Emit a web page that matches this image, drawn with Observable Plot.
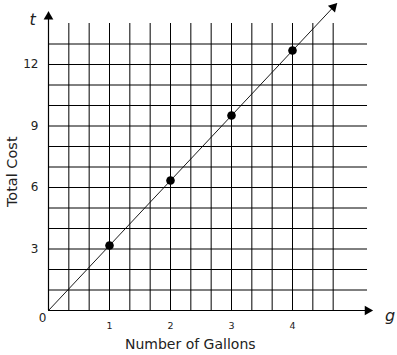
<!DOCTYPE html>
<html>
<head>
<meta charset="utf-8">
<script src="https://cdn.jsdelivr.net/npm/d3@7"></script>
<script src="https://cdn.jsdelivr.net/npm/@observablehq/plot@0.6"></script>
<style>
  html, body { margin: 0; padding: 0; background: #fff; }
  svg { display: block; }
</style>
</head>
<body>
<div id="chart"></div>
<script>
// Data
const gallons = [1, 2, 3, 4];
const totalCost = [3.17, 6.34, 9.51, 12.68];
const xTicks = [1, 2, 3, 4];
const yTicks = [3, 6, 9, 12];
const xGrid = d3.range(0, 15).map(k => k / 3);    // vertical grid every 1/3 gallon
const yGrid = d3.range(1, 14);                    // horizontal grid every 1
const gridTopY = 14;
const gridRightX = 5.23;
const lineG = [0, 4.72];
const lineT = [0, 14.96];
const xAxisEnd = 5.3;
const yAxisEnd = 14.55;

const W = 397, H = 355;
const ML = 48, MR = 13.5, MT = 2.5, MB = 45;
const xDomain = [0, 5.5], yDomain = [0, 15];
const ux = (W - ML - MR) / (xDomain[1] - xDomain[0]);
const uy = (H - MT - MB) / (yDomain[1] - yDomain[0]);
const slope = (lineT[1] - lineT[0]) / (lineG[1] - lineG[0]);
const diagAngle = Math.atan2(ux, slope * uy) * 180 / Math.PI;

const font = "DejaVu Sans, Verdana, sans-serif";
const ink = "#222";

const chart = Plot.plot({
  width: W,
  height: H,
  marginLeft: ML,
  marginRight: MR,
  marginTop: MT,
  marginBottom: MB,
  style: { fontFamily: font, background: "#fff", overflow: "visible" },
  x: { domain: xDomain },
  y: { domain: yDomain },
  marks: [
    // grid
    Plot.ruleX(xGrid, { x: d => d, y1: 0, y2: gridTopY, stroke: "#000", strokeWidth: 1 }),
    Plot.ruleY(yGrid, { y: d => d, x1: 0, x2: gridRightX, stroke: "#000", strokeWidth: 1 }),
    // axes lines
    Plot.ruleY([0], { x1: 0, x2: xAxisEnd, stroke: "#000", strokeWidth: 1.2 }),
    Plot.ruleX([0], { y1: 0, y2: yAxisEnd, stroke: "#000", strokeWidth: 1.2 }),
    // arrow heads
    Plot.dot([xAxisEnd - 0.07], { x: d => d, y: 0, symbol: "triangle", r: 3.6, fill: "#000", stroke: "none", rotate: 90 }),
    Plot.dot([yAxisEnd - 0.22], { x: 0, y: d => d, symbol: "triangle", r: 3.6, fill: "#000", stroke: "none", rotate: 0 }),
    // diagonal line
    Plot.line(lineG.map((g, i) => ({ g, t: lineT[i] })), { x: "g", y: "t", stroke: "#000", strokeWidth: 0.9 }),
    Plot.dot([{ g: lineG[1] - 0.05, t: lineT[1] - 0.16 }], { x: "g", y: "t", symbol: "triangle", r: 3.6, fill: "#000", stroke: "none", rotate: diagAngle }),
    // data points
    Plot.dot(gallons.map((g, i) => ({ g, t: totalCost[i] })), { x: "g", y: "t", r: 4.3, fill: "#000", stroke: "none" }),
    // axes ticks
    Plot.axisX(xTicks, { tickSize: 0, tickPadding: 12, fontSize: 9.5, color: ink, label: null }),
    Plot.axisY(yTicks, { tickSize: 0, tickPadding: 10, fontSize: 12, color: ink, label: null }),
    Plot.text(["0"], { x: 0, y: 0, dx: -6, dy: 8, fontSize: 12, fill: ink }),
    // axis titles
    Plot.text(["Number of Gallons"], { frameAnchor: "bottom", dy: 38, dx: -26, fontSize: 14, fill: ink }),
    Plot.text(["Total Cost"], { frameAnchor: "left", textAnchor: "middle", dx: -36, dy: 15, rotate: -90, fontSize: 14.5, fill: ink }),
    Plot.text(["t"], { frameAnchor: "top-left", dx: -19, dy: 11, fontSize: 16, fontStyle: "italic", fill: ink }),
    Plot.text(["g"], { frameAnchor: "bottom-right", textAnchor: "middle", dx: 6, dy: 10, fontSize: 16, fontStyle: "italic", fill: ink })
  ]
});
document.getElementById("chart").appendChild(chart);
</script>
</body>
</html>
